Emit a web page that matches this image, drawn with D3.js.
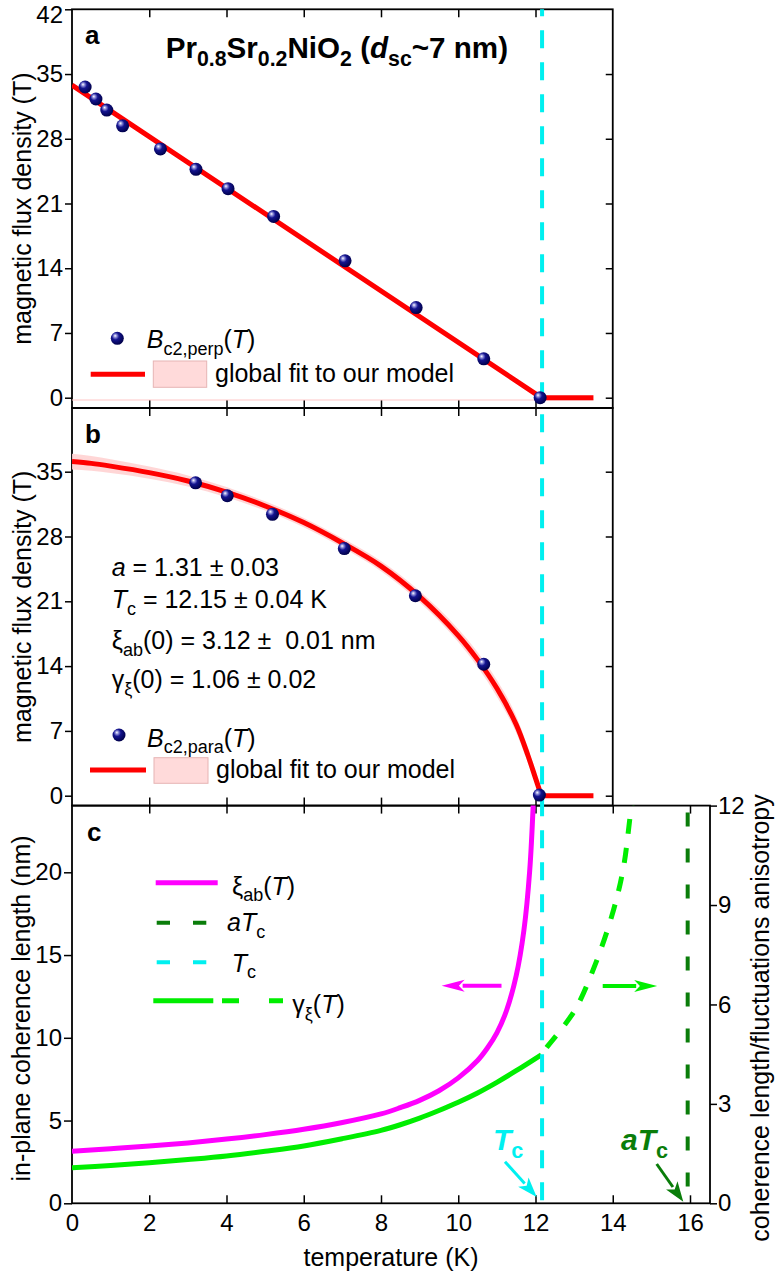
<!DOCTYPE html>
<html><head><meta charset="utf-8">
<script src="https://cdn.jsdelivr.net/npm/d3@7"></script>
<style>
body{margin:0;background:#fff}
text{font-family:"Liberation Sans",Arial,Helvetica,sans-serif;white-space:pre}
</style></head><body>
<svg id="chart" width="778" height="1278"></svg>
<script>
// ---------------- data ----------------
const perpT = [0.34,0.62,0.90,1.31,2.29,3.21,4.04,5.22,7.07,8.91,10.66,12.12];
const perpB = [33.6,32.3,31.1,29.4,26.9,24.7,22.6,19.6,14.8,9.75,4.2,0.0];
const fitAT = [0,12.15,13.5];
const fitAB = [33.8,0,0];
const baseAT = [0,13.5];
const baseAB = [-0.25,-0.25];

const paraT = [3.2,4.02,5.19,7.05,8.89,10.66,12.1];
const paraB = [33.8,32.4,30.4,26.7,21.6,14.2,0.07];
const fitBT = [0,0.5,1,2,3,4,5,6,7,8,9,10,10.5,11,11.5,11.8,12.0,12.15,13.5];
const fitBB = [36.1,35.9,35.6,34.9,34.0,32.8,31.3,29.5,27.3,24.8,21.5,17.3,14.7,11.6,7.7,4.4,1.9,0,0];
const fitBHalf = [0.85,0.8,0.75,0.65,0.6,0.55,0.5,0.5,0.5,0.55,0.6,0.7,0.8,0.9,0.9,0.8,0.6,0.3,0];

const xiT = [0,1,2,3,4,5,6,7,8,8.5,9,9.5,10,10.5,10.75,11,11.25,11.5,11.7,11.85,11.95];
const xiV = [3.15,3.3,3.46,3.65,3.88,4.15,4.47,4.88,5.4,5.78,6.22,6.8,7.58,8.63,9.37,10.3,11.65,13.75,16.5,20.1,24.6];
const gamT = [0,1,2,3,4,5,6,7,8,8.5,9,9.5,10,10.5,11,11.5,12.15];
const gamV = [1.07,1.14,1.22,1.32,1.43,1.57,1.73,1.95,2.2,2.37,2.57,2.8,3.05,3.33,3.65,4.0,4.48];
const gamDT = [12.15,12.3,12.7,13.07,13.59,14.02,14.28,14.46,14.52];
const gamDV = [4.48,4.72,5.3,5.93,7.34,8.85,10.15,11.76,12.2];

const Tc = 12.17, aTc = 15.94;
const xTicksAB = [0,2,4,6,8,10,12,14];
const xTicksC = [0,2,4,6,8,10,12,14,16];
const yTicksAB = [0,7,14,21,28,35,42];
const yTicksB = [0,7,14,21,28,35];
const yTicksCL = [0,5,10,15,20];
const yTicksCR = [0,3,6,9,12];

// ---------------- layout ----------------
const svg = d3.select("#chart");
const FS = 24, FL = 25;
const X0 = 72;
const x = d3.scaleLinear().domain([0,16]).range([72,690]);
const xR_AB = x(14), xR_C = 710;
const aTop = 9.3, aBot = 408, bBot = 805.6, cBot = 1203.3;
const yA = d3.scaleLinear().domain([0,42]).range([397.7,9.3]);
const yB = d3.scaleLinear().domain([0,35]).range([795.7,471.7]);
const yCL = d3.scaleLinear().domain([0,20]).range([cBot,872.3]);
const yCR = d3.scaleLinear().domain([0,12]).range([cBot,bBot]);

const defs = svg.append("defs");
const grad = defs.append("radialGradient").attr("id","ball")
  .attr("cx","0.4").attr("cy","0.38").attr("r","0.62").attr("fx","0.33").attr("fy","0.3");
[["0%","#ffffff"],["20%","#8a8ad8"],["45%","#14148f"],["100%","#00004a"]].forEach(s=>
  grad.append("stop").attr("offset",s[0]).attr("stop-color",s[1]));
function clip(id,x0,y0,x1,y1){
  defs.append("clipPath").attr("id",id).append("rect")
    .attr("x",x0).attr("y",y0).attr("width",x1-x0).attr("height",y1-y0);
}
clip("cA",X0,aTop,xR_AB,aBot);
clip("cB",X0,aBot,xR_AB,bBot);
clip("cC",X0,bBot,xR_C,cBot);

function rich(sel,px,py,parts,size,attrs){
  const t = sel.append("text").attr("x",px).attr("y",py).attr("font-size",size);
  if(attrs) Object.entries(attrs).forEach(([k,v])=>t.attr(k,v));
  let shift=0;
  parts.forEach(p=>{
    const s = t.append("tspan").text(p.t);
    const target = p.sub ? size*0.27 : 0;
    if(target!==shift){ s.attr("dy",target-shift); shift=target; }
    if(p.sub) s.attr("font-size",size*0.72);
    if(p.it) s.attr("font-style","italic");
  });
  return t;
}
function arrow(g,x1,y1,x2,y2,color,w,hl,hw){
  const dx=x2-x1, dy=y2-y1, L=Math.hypot(dx,dy), ux=dx/L, uy=dy/L;
  const bx=x2-ux*hl, by=y2-uy*hl;
  g.append("line").attr("x1",x1).attr("y1",y1).attr("x2",bx+ux*2).attr("y2",by+uy*2)
    .attr("stroke",color).attr("stroke-width",w);
  g.append("path").attr("d",`M${x2},${y2}L${bx-uy*hw/2},${by+ux*hw/2}L${bx+ux*hl*0.25},${by+uy*hl*0.25}L${bx+uy*hw/2},${by-ux*hw/2}Z`)
    .attr("fill",color);
}
const zip = (a,b)=>a.map((v,i)=>[v,b[i]]);

// ---------------- panel frames & axes ----------------
function styleAxis(g){ g.select(".domain").remove(); g.selectAll("line").attr("stroke","#000").attr("stroke-width",1.5);
  g.selectAll("text").attr("font-size",FS).attr("font-family","Liberation Sans, Arial, sans-serif").attr("fill","#000"); }
const axes = svg.append("g");
function hTicks(yPos,vals,dir,xr){
  const ax = dir>0 ? d3.axisBottom(x) : d3.axisTop(x);
  axes.append("g").attr("transform",`translate(0,${yPos})`)
    .call(ax.tickValues(vals.filter(v=>x(v)>X0+1 && x(v)<xr-1)).tickSize(8).tickFormat("")).call(styleAxis);
}
// panel a
hTicks(aTop,xTicksAB,1,xR_AB); hTicks(aBot,xTicksAB,-1,xR_AB);
axes.append("g").attr("transform",`translate(${X0},0)`)
  .call(d3.axisLeft(yA).tickValues(yTicksAB).tickSize(7).tickPadding(2)).call(styleAxis)
  .selectAll(".tick").filter(d=>d===42).select("text").attr("dy","0.53em");
axes.append("g").attr("transform",`translate(${xR_AB},0)`)
  .call(d3.axisLeft(yA).tickValues(yTicksAB.filter(v=>v<42)).tickSize(7).tickFormat("")).call(styleAxis);
// panel b
hTicks(aBot,xTicksAB,1,xR_AB); hTicks(bBot,xTicksAB,-1,xR_AB);
axes.append("g").attr("transform",`translate(${X0},0)`)
  .call(d3.axisLeft(yB).tickValues(yTicksB).tickSize(7).tickPadding(2)).call(styleAxis);
axes.append("g").attr("transform",`translate(${xR_AB},0)`)
  .call(d3.axisLeft(yB).tickValues(yTicksB).tickSize(7).tickFormat("")).call(styleAxis);
// panel c
hTicks(bBot,xTicksC,1,xR_C); hTicks(cBot,xTicksC,-1,xR_C);
axes.append("g").attr("transform",`translate(0,${cBot})`)
  .call(d3.axisBottom(x).tickValues(xTicksC).tickSize(0).tickPadding(11)).call(styleAxis);
axes.append("g").attr("transform",`translate(${X0},0)`)
  .call(d3.axisLeft(yCL).tickValues(yTicksCL).tickSize(8).tickPadding(2)).call(styleAxis);
axes.append("g").attr("transform",`translate(${xR_C},0)`)
  .call(d3.axisRight(yCR).tickValues(yTicksCR).tickSize(7).tickPadding(1)).call(styleAxis);

// frames
const frame = svg.append("g").attr("fill","none").attr("stroke","#000").attr("stroke-width",1.8);
frame.append("rect").attr("x",X0).attr("y",aTop).attr("width",xR_AB-X0).attr("height",aBot-aTop);
frame.append("rect").attr("x",X0).attr("y",aBot).attr("width",xR_AB-X0).attr("height",bBot-aBot);
frame.append("rect").attr("x",X0).attr("y",bBot).attr("width",xR_C-X0).attr("height",cBot-bBot);

const smooth = d3.curveCatmullRom.alpha(0.5);

// ---------------- panel a ----------------
const gA = svg.append("g").attr("clip-path","url(#cA)");
gA.append("path").datum(zip(baseAT,baseAB)).attr("fill","none").attr("stroke","#ffc8c8").attr("stroke-width",1.2)
  .attr("d",d3.line().x(d=>x(d[0])).y(d=>yA(d[1])));

// ---------------- panel b band ----------------
const gB = svg.append("g").attr("clip-path","url(#cB)");
const bandData = fitBT.map((t,i)=>[t,fitBB[i]-fitBHalf[i],fitBB[i]+fitBHalf[i]]);
gB.append("path").datum(bandData.filter(d=>d[0]<=Tc))
  .attr("fill","#ffd2d2").attr("opacity",0.9)
  .attr("d",d3.area().x(d=>x(d[0])).y0(d=>yB(d[1])).y1(d=>yB(d[2])).curve(d3.curveMonotoneX));

// ---------------- panel c curves ----------------
const gC = svg.append("g").attr("clip-path","url(#cC)");
gC.append("line").attr("x1",x(aTc)).attr("x2",x(aTc)).attr("y1",bBot+7).attr("y2",cBot)
  .attr("stroke","#0a7d0a").attr("stroke-width",4).attr("stroke-dasharray","14,22");
gC.append("path").datum(zip(gamT,gamV)).attr("fill","none").attr("stroke","#00ee00").attr("stroke-width",5)
  .attr("d",d3.line().x(d=>x(d[0])).y(d=>yCR(d[1])).curve(smooth));
gC.append("path").datum(zip(gamDT,gamDV)).attr("fill","none").attr("stroke","#00ee00").attr("stroke-width",5)
  .attr("stroke-dasharray","15,14").attr("stroke-dashoffset",-9)
  .attr("d",d3.line().x(d=>x(d[0])).y(d=>yCR(d[1])).curve(smooth));
gC.append("path").datum(zip(xiT,xiV)).attr("fill","none").attr("stroke","#ff00ff").attr("stroke-width",5)
  .attr("d",d3.line().x(d=>x(d[0])).y(d=>yCL(d[1])).curve(smooth));

// cyan Tc line across all panels
svg.append("line").attr("x1",x(Tc)).attr("x2",x(Tc)).attr("y1",aTop).attr("y2",cBot)
  .attr("stroke","#00f0f0").attr("stroke-width",4).attr("stroke-dasharray","18,14").attr("stroke-dashoffset",11);

// fits & data on top
gA.append("path").datum(zip(fitAT,fitAB)).attr("fill","none").attr("stroke","#ff0000").attr("stroke-width",5)
  .attr("d",d3.line().x(d=>x(d[0])).y(d=>yA(d[1])));
const fitB = zip(fitBT,fitBB);
gB.append("path").datum(fitB.filter(d=>d[0]<=12.15)).attr("fill","none").attr("stroke","#ff0000").attr("stroke-width",5)
  .attr("d",d3.line().x(d=>x(d[0])).y(d=>yB(d[1])).curve(smooth));
gB.append("path").datum(fitB.filter(d=>d[0]>=12.15)).attr("fill","none").attr("stroke","#ff0000").attr("stroke-width",5)
  .attr("d",d3.line().x(d=>x(d[0])).y(d=>yB(d[1])));
svg.append("g").selectAll("circle").data(zip(perpT,perpB)).join("circle")
  .attr("cx",d=>x(d[0])).attr("cy",d=>yA(d[1])).attr("r",6.5).attr("fill","url(#ball)");
svg.append("g").selectAll("circle").data(zip(paraT,paraB)).join("circle")
  .attr("cx",d=>x(d[0])).attr("cy",d=>yB(d[1])).attr("r",6.5).attr("fill","url(#ball)");

// ---------------- texts ----------------
const T = svg.append("g").attr("fill","#000");
T.append("text").attr("x",85).attr("y",44).attr("font-size",26).attr("font-weight","bold").text("a");
T.append("text").attr("x",85).attr("y",443).attr("font-size",26).attr("font-weight","bold").text("b");
T.append("text").attr("x",87).attr("y",841).attr("font-size",26).attr("font-weight","bold").text("c");
rich(T,165.7,58.3,[{t:"Pr"},{t:"0.8",sub:1},{t:"Sr"},{t:"0.2",sub:1},{t:"NiO"},{t:"2",sub:1},{t:" ("},{t:"d",it:1},{t:"sc",sub:1},{t:"~7 nm)"}],29.6,{"font-weight":"bold"});

// axis titles
T.append("text").attr("transform",`translate(31,${(aTop+aBot)/2}) rotate(-90)`).attr("text-anchor","middle").attr("font-size",FL).text("magnetic flux density (T)");
T.append("text").attr("transform",`translate(31,${(aBot+bBot)/2}) rotate(-90)`).attr("text-anchor","middle").attr("font-size",FL).text("magnetic flux density (T)");
T.append("text").attr("transform",`translate(30,${(bBot+cBot)/2+4}) rotate(-90)`).attr("text-anchor","middle").attr("font-size",FL).text("in-plane coherence length (nm)");
T.append("text").attr("transform",`translate(769,1018) rotate(-90)`).attr("text-anchor","middle").attr("font-size",FL).text("coherence length/fluctuations anisotropy");
T.append("text").attr("x",391).attr("y",1266).attr("text-anchor","middle").attr("font-size",FL).text("temperature (K)");

// legend a
T.append("circle").attr("cx",117.3).attr("cy",338.3).attr("r",6.5).attr("fill","url(#ball)");
rich(T,146.7,348,[{t:"B",it:1},{t:"c2,perp",sub:1},{t:"("},{t:"T",it:1},{t:")"}],25);
T.append("line").attr("x1",90.7).attr("x2",145).attr("y1",374.3).attr("y2",374.3).attr("stroke","#ff0000").attr("stroke-width",5);
T.append("rect").attr("x",153.3).attr("y",361).attr("width",53.4).attr("height",26.3).attr("fill","#ffdada").attr("stroke","#e6b4b4").attr("stroke-width",1);
T.append("text").attr("x",215).attr("y",381.7).attr("font-size",25).text("global fit to our model");

// legend b + parameters
rich(T,111.7,575.7,[{t:"a",it:1},{t:" = 1.31 ± 0.03"}],25);
rich(T,111.7,608,[{t:"T",it:1},{t:"c",sub:1},{t:" = 12.15 ± 0.04 K"}],25);
rich(T,111.7,649.3,[{t:"ξ"},{t:"ab",sub:1},{t:"(0) = 3.12 ±  0.01 nm"}],25);
rich(T,111.7,688,[{t:"γ"},{t:"ξ",sub:1},{t:"(0) = 1.06 ± 0.02"}],25);
T.append("circle").attr("cx",119).attr("cy",735).attr("r",6.5).attr("fill","url(#ball)");
rich(T,147,746.7,[{t:"B",it:1},{t:"c2,para",sub:1},{t:"("},{t:"T",it:1},{t:")"}],25);
T.append("line").attr("x1",90).attr("x2",146).attr("y1",770).attr("y2",770).attr("stroke","#ff0000").attr("stroke-width",5);
T.append("rect").attr("x",154).attr("y",757.7).attr("width",54).attr("height",25.6).attr("fill","#ffdada").attr("stroke","#e6b4b4").attr("stroke-width",1);
T.append("text").attr("x",216).attr("y",778.3).attr("font-size",25).text("global fit to our model");

// legend c
T.append("line").attr("x1",155.7).attr("x2",217.7).attr("y1",882.7).attr("y2",882.7).attr("stroke","#ff00ff").attr("stroke-width",5);
rich(T,232,894.5,[{t:"ξ"},{t:"ab",sub:1},{t:"("},{t:"T",it:1},{t:")"}],25);
T.append("line").attr("x1",156.7).attr("x2",206.7).attr("y1",922.7).attr("y2",922.7).attr("stroke","#0a7d0a").attr("stroke-width",4).attr("stroke-dasharray","13.3,23");
rich(T,227,931,[{t:"a",it:1},{t:"T",it:1},{t:"c",sub:1}],25);
T.append("line").attr("x1",156.7).attr("x2",206.7).attr("y1",962.3).attr("y2",962.3).attr("stroke","#00f0f0").attr("stroke-width",4).attr("stroke-dasharray","13.3,23");
rich(T,231.7,971.7,[{t:"T",it:1},{t:"c",sub:1}],25);
T.append("line").attr("x1",153.3).attr("x2",213.3).attr("y1",1000.7).attr("y2",1000.7).attr("stroke","#00ee00").attr("stroke-width",5);
T.append("line").attr("x1",222).attr("x2",283).attr("y1",1000.7).attr("y2",1000.7).attr("stroke","#00ee00").attr("stroke-width",5).attr("stroke-dasharray","17,30,14");
rich(T,292.3,1013,[{t:"γ"},{t:"ξ",sub:1},{t:"("},{t:"T",it:1},{t:")"}],25);

// arrows
const AR = svg.append("g");
arrow(AR,x(11.12),yCL(13.15),x(9.57),yCL(13.15),"#ff00ff",4,23,12);
arrow(AR,x(13.74),yCR(6.56),x(15.15),yCR(6.56),"#00ee00",4,23,12);
arrow(AR,505,1161.7,536.7,1197,"#00f0f0",3,20,14);
arrow(AR,656.7,1164,683.3,1201.7,"#0a7d0a",3,20,14);
rich(T,493,1150,[{t:"T",it:1},{t:"c",sub:1}],30,{"font-weight":"bold","fill":"#00f0f0"});
rich(T,621,1150,[{t:"aT",it:1},{t:"c",sub:1}],30,{"font-weight":"bold","fill":"#0a7d0a"});
</script>
</body></html>
